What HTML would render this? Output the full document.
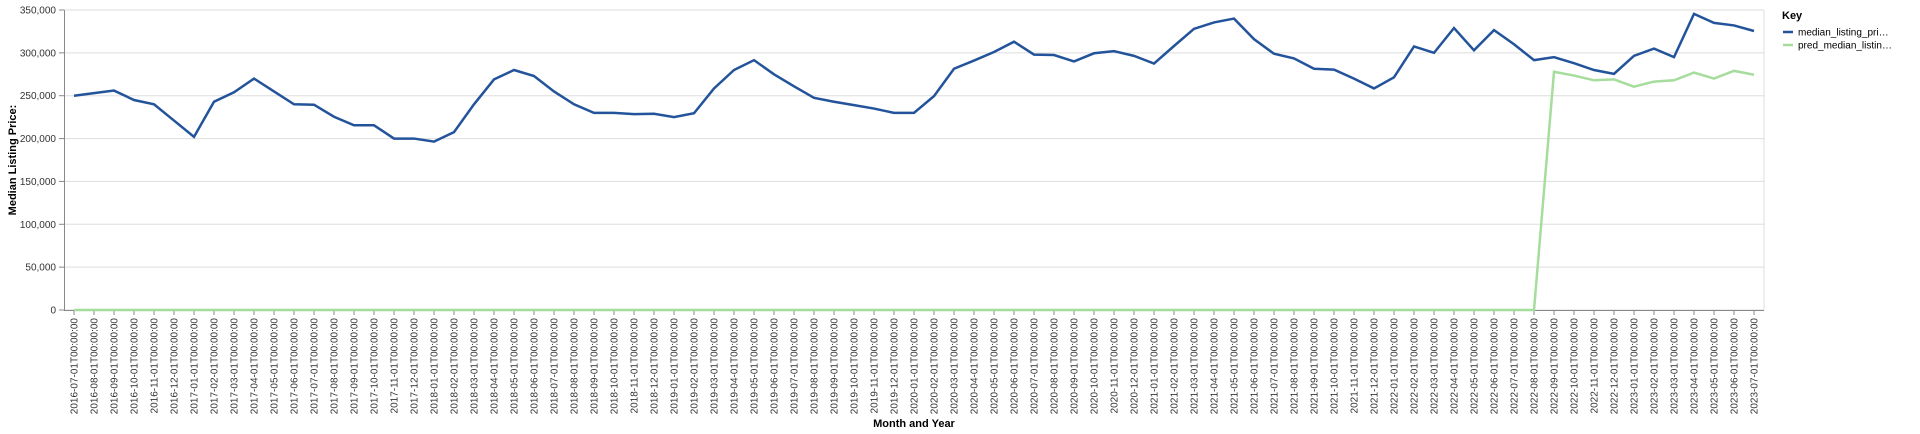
<!DOCTYPE html>
<html><head><meta charset="utf-8"><style>
html,body{margin:0;padding:0;background:#fff;}
svg{display:block;font-family:"Liberation Sans",Arial,sans-serif;}
</style></head><body>
<svg id="chart" width="1920" height="434"></svg>
<script>
const startYear = 2016, startMonth = 7, monthCount = 85;
const actualValues = [250000,253000,256000,245000,240000,221000,202000,243000,254000,270000,255000,240000,239500,225500,215500,215500,200000,200000,196500,207500,
240000,269000,280000,273000,255000,240000,230000,230000,228500,229000,225000,229500,258500,280000,291500,275000,261000,247500,243000,239000,
235000,230000,230000,249500,281500,291000,301000,313000,298000,297500,290000,299500,302000,296500,287500,308000,328000,335500,340000,316000,
299000,293500,281500,280500,270000,258500,271500,307500,300000,329000,303000,326500,310000,291500,295000,288000,280000,275500,296500,305000,
295000,345500,335000,332000,325500];
const predValues = [0,0,0,0,0,0,0,0,0,0,0,0,0,0,0,0,0,0,0,0,0,0,0,0,0,0,0,0,0,0,0,0,0,0,0,0,0,0,0,0,0,0,0,0,0,0,0,0,0,0,0,0,0,0,0,0,0,0,0,0,0,0,0,0,0,0,0,0,0,0,0,0,0,0,
278000,273500,268000,269000,260500,266500,268000,277000,270000,279000,274500];
const yTicks = [0,50000,100000,150000,200000,250000,300000,350000];
const yMax = 350000;

const NS = "http://www.w3.org/2000/svg";
const svg = document.getElementById('chart');
const L = 64, R = 1764, T = 10, B = 310, step = 20, off = 10;
const xS = i => L + off + i * step;
const yS = v => B - v / yMax * (B - T);
function mk(tag, attrs, parent) {
  const e = document.createElementNS(NS, tag);
  for (const k in attrs) e.setAttribute(k, attrs[k]);
  (parent || svg).appendChild(e);
  return e;
}
const cats = [];
for (let i = 0; i < monthCount; i++) {
  const m = startMonth - 1 + i;
  const y = startYear + Math.floor(m / 12), mm = (m % 12) + 1;
  cats.push(y + '-' + String(mm).padStart(2, '0') + '-01T00:00:00');
}
// grid
yTicks.forEach(v => {
  const g = mk('line', {x1: L, x2: R, y1: yS(v), y2: yS(v), stroke: '#ddd', 'stroke-width': 1});
  
  
  const tk = mk('line', {x1: L - 5, x2: L, y1: yS(v), y2: yS(v), stroke: '#888'});
  
  
  const t = mk('text', {x: L - 8, y: yS(v) + 3.5, 'text-anchor': 'end', 'font-size': 10, fill: '#333'});
  t.textContent = v.toLocaleString('en-US');
  
  
});
const rb = mk('line', {x1: R, x2: R, y1: T, y2: B, stroke: '#ddd'});


const ya = mk('line', {x1: L + .5, x2: L + .5, y1: T, y2: B, stroke: '#888'});


const xa = mk('line', {x1: L, x2: R, y1: B + .5, y2: B + .5, stroke: '#888'});


cats.forEach((c, i) => {
  const x = xS(i);
  const tk = mk('line', {x1: x, x2: x, y1: B, y2: B + 5, stroke: '#888'});
  
  
  const t = mk('text', {x: 0, y: 0, 'text-anchor': 'end', 'font-size': 10, fill: '#333', transform: `translate(${x + 3.5},${B + 8}) rotate(-90)`});
  t.textContent = c;
  
  
});
function line(vals, color, name) {
  const d = vals.map((v, i) => (i ? 'L' : 'M') + xS(i) + ',' + yS(v)).join('');
  const p = mk('path', {d, fill: 'none', stroke: color, 'stroke-width': 2.5, 'stroke-linejoin': 'miter'});
  
  
}
line(predValues, '#a6dd9c', 'pred-median-listing-price-line');
line(actualValues, '#23539a', 'median-listing-price-line');
const yt = mk('text', {transform: `translate(16,${(T + B) / 2}) rotate(-90)`, 'text-anchor': 'middle', 'font-size': 11, 'font-weight': 'bold', fill: '#000'});
yt.textContent = 'Median Listing Price:';


const xt = mk('text', {x: (L + R) / 2, y: 427, 'text-anchor': 'middle', 'font-size': 11, 'font-weight': 'bold', fill: '#000'});
xt.textContent = 'Month and Year';


// legend
const lg = mk('g', {});


const kt = mk('text', {x: 1782, y: 19, 'font-size': 11, 'font-weight': 'bold', fill: '#000'}, lg);
kt.textContent = 'Key';


[['median_listing_pri…', '#23539a', 32], ['pred_median_listin…', '#a6dd9c', 45]].forEach(([lab, col, y]) => {
  const s = mk('line', {x1: 1783, x2: 1793, y1: y, y2: y, stroke: col, 'stroke-width': 2.5}, lg);
  
  
  const t = mk('text', {x: 1798, y: y + 3.5, 'font-size': 10, fill: '#000'}, lg);
  t.textContent = lab;
  
  
});
</script>
</body></html>
